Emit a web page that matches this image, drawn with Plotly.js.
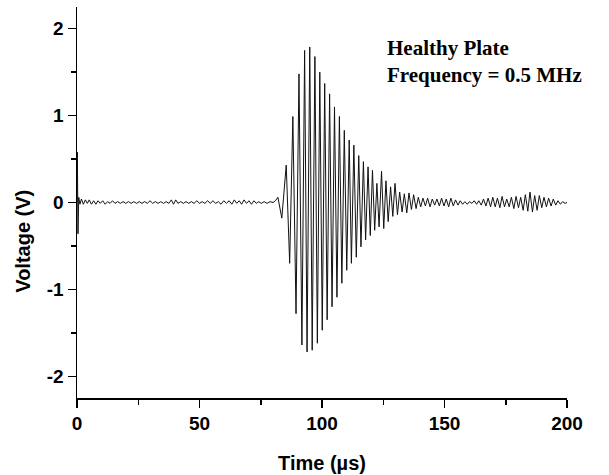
<!DOCTYPE html>
<html>
<head>
<meta charset="utf-8">
<script src="https://cdn.plot.ly/plotly-3.0.1.min.js"></script>
<style>html,body{margin:0;padding:0;background:#fff;}#chart{width:609px;height:475px;}</style>
</head>
<body>
<div id="chart"></div>
<script>
// Pre-burst noise and initial spike (time in µs, voltage in V)
const noiseTime = [0,0.15,0.4,0.7,1.2,1.8,2.6,3.4,4.2,5.0,5.9,6.8,7.7,8.6,9.5,10.5,11.5,12.5,13.5,14.5,15.5,16.6,17.7,18.8,19.9,21.0,22.1,23.2,24.3,25.4,26.5,27.6,28.7,29.8,30.9,32.0,33.1,34.2,35.3,36.4,37.5,38.5,39.4,40.3,41.2,42.3,43.4,44.5,45.6,46.7,47.8,48.9,50.0,51.1,52.2,53.3,54.4,55.5,56.6,57.7,58.8,59.9,61.0,62.1,63.2,64.2,65.2,66.2,67.2,68.2,69.2,70.2,71.2,72.2,73.2,74.2,75.2,76.4,77.6,78.8,80.0,81.0,82.0];
const noiseVolt = [0,0.58,-0.36,0.06,-0.02,0.04,-0.02,0.03,-0.01,0.03,-0.02,0.02,-0.02,0.02,-0.01,0.02,-0.02,0.01,-0.01,0.02,-0.01,0.01,-0.01,0.01,-0.01,0.01,-0.01,0.01,-0.01,0.01,-0.01,0.01,-0.01,0.02,-0.01,0.01,-0.01,0.01,-0.01,0.01,-0.01,0.03,-0.02,0.03,-0.01,0.01,-0.01,0.01,-0.01,0.01,-0.01,0.02,-0.01,0.01,-0.01,0.02,-0.01,0.02,-0.01,0.01,-0.02,0.02,-0.01,0.02,-0.02,0.03,-0.01,0.02,-0.02,0.03,-0.01,0.02,-0.02,0.02,-0.01,0.01,-0.01,0.01,-0.01,0.01,0.0,0.02,0.06];

// Main wave packet: successive peaks and troughs
const burstTime = [83.6,85.4,86.8,88.1,89.4,90.6,91.8,92.9,93.9,95.0,96.0,97.1,98.1,99.1,100.1,101.1,102.1,103.1,104.1,105.1,106.1,107.1,108.1,109.1,110.1,111.1,112.0,113.0,114.0,115.0,115.9,116.9,117.8,118.8,119.7,120.6,121.5,122.4,123.3];
const burstVolt = [-0.18,0.43,-0.70,0.99,-1.28,1.48,-1.64,1.75,-1.72,1.79,-1.70,1.68,-1.62,1.50,-1.47,1.37,-1.35,1.25,-1.20,1.10,-1.09,0.99,-0.93,0.83,-0.78,0.72,-0.70,0.66,-0.63,0.54,-0.51,0.47,-0.43,0.41,-0.38,0.37,-0.32,0.22,-0.28];

// Tail / reflections: successive peaks and troughs
const tailTime = [124.3,125.2,126.1,127.0,128.0,128.9,129.8,130.8,131.7,132.7,133.6,134.6,135.5,136.5,137.4,138.4,139.3,140.3,141.2,142.2,143.1,144.1,145.0,146.0,146.9,147.9,148.8,149.8,150.7,151.7,152.6,153.6,154.5,155.5,156.4,157.4,158.3,159.3,160.2,161.2,162.1,163.1,164.0,165.0,165.9,166.9,167.8,168.8,169.7,170.7,171.6,172.6,173.5,174.5,175.4,176.4,177.3,178.3,179.2,180.2,181.1,182.1,183.0,184.0,184.9,185.9,186.8,187.8,188.7,189.7,190.6,191.6,192.5,193.5,194.4,195.4,196.3,197.3,198.2,199.2,200.0];
const tailVolt = [0.36,-0.30,0.25,-0.22,0.18,-0.16,0.22,-0.14,0.12,-0.11,0.10,-0.12,0.11,-0.08,0.09,-0.07,0.06,-0.05,0.05,-0.04,0.05,-0.05,0.04,-0.03,0.04,-0.04,0.05,-0.04,0.04,-0.05,0.05,-0.04,0.03,-0.03,0.02,-0.02,0.01,-0.02,0.01,-0.01,0.02,-0.02,0.02,-0.03,0.04,-0.04,0.05,-0.05,0.06,-0.05,0.05,-0.06,0.07,-0.05,0.04,-0.05,0.06,-0.07,0.07,-0.06,0.06,-0.09,0.09,-0.10,0.12,-0.11,0.08,-0.09,0.08,-0.06,0.06,-0.05,0.05,-0.04,0.04,-0.03,0.02,-0.02,0.01,-0.01,0.0];

const xTicks = [0,50,100,150,200];
const yTicks = [-2,-1,0,1,2];
const labelLines = ["Healthy Plate","Frequency = 0.5 MHz"];

const t = noiseTime.concat(burstTime, tailTime);
const v = noiseVolt.concat(burstVolt, tailVolt);

const trace = {
  x: t, y: v, type: 'scatter', mode: 'lines',
  line: {color: '#111', width: 1},
  hoverinfo: 'skip'
};

const axisFont = {family: 'Arial, "Liberation Sans", sans-serif', size: 19, color: '#000'};
const layout = {
  width: 609, height: 475,
  margin: {l: 77, r: 42, t: 7, b: 77},
  paper_bgcolor: '#fff', plot_bgcolor: '#fff',
  showlegend: false,
  font: axisFont,
  xaxis: {
    range: [0, 200], showgrid: false, zeroline: false,
    showline: true, linecolor: '#000', linewidth: 1.5,
    ticks: 'outside', ticklen: 8, tickwidth: 1.5, tickcolor: '#000',
    tickvals: xTicks, ticktext: xTicks.map(d => '<b>' + d + '</b>'),
    tickfont: axisFont,
    minor: {dtick: 25, tick0: 0, ticks: 'outside', ticklen: 5, tickwidth: 1.5, tickcolor: '#000'},
    title: {text: '<b>Time (µs)</b>', font: {family: axisFont.family, size: 20, color: '#000'}, standoff: 22}
  },
  yaxis: {
    range: [-2.25, 2.25], showgrid: false, zeroline: false,
    showline: true, linecolor: '#000', linewidth: 1.5,
    ticks: 'outside', ticklen: 8, tickwidth: 1.5, tickcolor: '#000',
    tickvals: yTicks, ticktext: yTicks.map(d => '<b>' + d + '</b>'),
    tickfont: axisFont,
    minor: {dtick: 0.5, tick0: 0, ticks: 'outside', ticklen: 5, tickwidth: 1.5, tickcolor: '#000'}
  },
  annotations: [
    {xref: 'paper', yref: 'paper', x: -0.112, y: 0.40, xanchor: 'center', yanchor: 'middle',
     textangle: -90, showarrow: false, text: '<b>Voltage (V)</b>',
     font: {family: axisFont.family, size: 20, color: '#000'}},
    {xref: 'paper', yref: 'paper', x: 0.628, y: 0.93, xanchor: 'left', yanchor: 'top', align: 'left',
     showarrow: false, text: labelLines.map(s => '<b>' + s + '</b>').join('<br>'),
     font: {family: '"Liberation Serif", "Times New Roman", serif', size: 21, color: '#000'}}
  ]
};

Plotly.newPlot('chart', [trace], layout, {staticPlot: true, displayModeBar: false});
</script>
</body>
</html>
